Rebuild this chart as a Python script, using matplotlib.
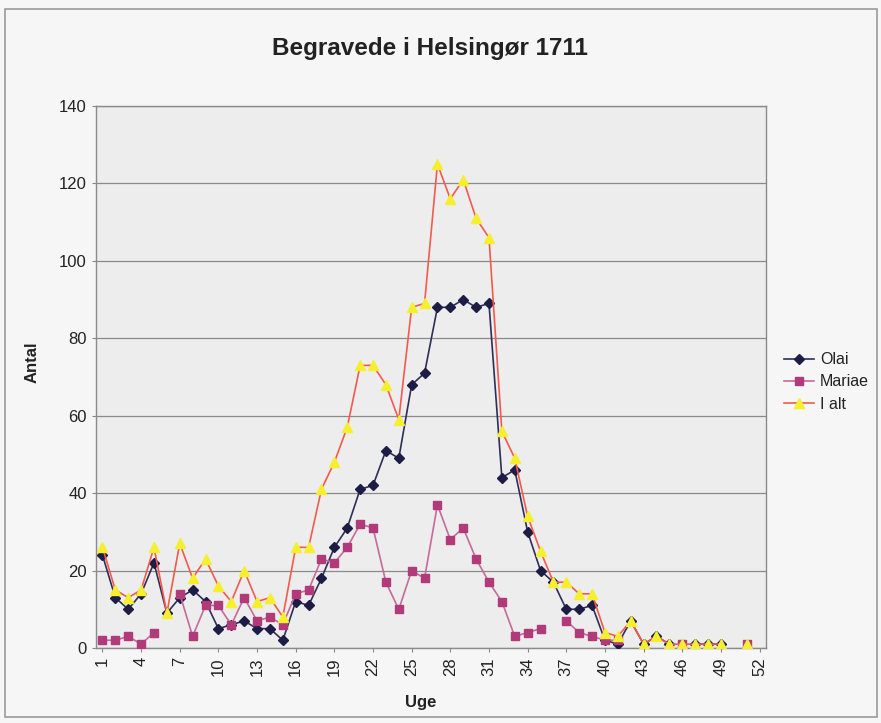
import numpy as np
import matplotlib
matplotlib.use("Agg")
import matplotlib.pyplot as plt
from matplotlib.patches import Rectangle

nan = np.nan
weeks = list(range(1, 53))
olai = [24, 13, 10, 14, 22, 9, 13, 15, 12, 5, 6, 7, 5, 5, 2, 12, 11, 18, 26, 31,
        41, 42, 51, 49, 68, 71, 88, 88, 90, 88, 89, 44, 46, 30, 20, 17, 10, 10, 11, 2,
        1, 7, 1, 3, 1, nan, 1, 1, 1, nan, nan, nan]
mariae = [2, 2, 3, 1, 4, nan, 14, 3, 11, 11, 6, 13, 7, 8, 6, 14, 15, 23, 22, 26,
          32, 31, 17, 10, 20, 18, 37, 28, 31, 23, 17, 12, 3, 4, 5, nan, 7, 4, 3, 2,
          2, nan, nan, nan, nan, 1, nan, nan, nan, nan, 1, nan]
i_alt = [26, 15, 13, 15, 26, 9, 27, 18, 23, 16, 12, 20, 12, 13, 8, 26, 26, 41, 48, 57,
         73, 73, 68, 59, 88, 89, 125, 116, 121, 111, 106, 56, 49, 34, 25, 17, 17, 14, 14, 4,
         3, 7, 1, 3, 1, 1, 1, 1, 1, nan, 1, nan]
xtick_labels = list(range(1, 53, 3))
yticks = list(range(0, 141, 20))

plt.rcParams['font.family'] = ['Liberation Sans', 'DejaVu Sans']

W, H = 881, 723
fig = plt.figure(figsize=(W / 100, H / 100), dpi=100, facecolor='#f6f6f6')

# chart-area border
fig.patches.append(Rectangle((5 / W, 6 / H), 872 / W, 708 / H, transform=fig.transFigure,
                             fill=False, edgecolor='#9a9a9a', linewidth=1.2))

left, right, top, bottom = 96, 766, 106, 648
ax = fig.add_axes([left / W, 1 - bottom / H, (right - left) / W, (bottom - top) / H])
ax.set_facecolor('#ededed')

ax.plot(weeks, olai, color='#2e2e58', lw=1.2, marker='D', markersize=5.5,
        markerfacecolor='#1c1c44', markeredgecolor='#1c1c44', label='Olai', zorder=3)
ax.plot(weeks, mariae, color='#c46a9c', lw=1.2, marker='s', markersize=5.5,
        markerfacecolor='#b03a7a', markeredgecolor='#b03a7a', label='Mariae', zorder=4)
ax.plot(weeks, i_alt, color='#f25a4e', lw=1.2, marker='^', markersize=7,
        markerfacecolor='#f6ef2e', markeredgecolor='#f6ef2e', label='I alt', zorder=5)

ax.set_xlim(0.5, 52.5)
ax.set_ylim(0, 140)
ax.set_yticks(yticks)
ax.set_xticks(xtick_labels)
ax.set_xticklabels([str(v) for v in xtick_labels], rotation=90)
ax.tick_params(axis='both', labelsize=12, colors='#222222', length=3, color='#888888')
ax.grid(axis='y', color='#8a8a8a', lw=0.9)
ax.set_axisbelow(True)
for s in ax.spines.values():
    s.set_color('#8a8a8a')
    s.set_linewidth(1.0)

fig.text(430 / W, 1 - 49 / H, 'Begravede i Helsingør 1711', ha='center', va='center',
         fontsize=17.5, fontweight='bold', color='#222222')
fig.text(32 / W, 1 - 362 / H, 'Antal', rotation=90, ha='center', va='center',
         fontsize=12, fontweight='bold', color='#222222')
fig.text(421 / W, 1 - 703 / H, 'Uge', ha='center', va='center',
         fontsize=12, fontweight='bold', color='#222222')

leg = fig.legend(loc='center left', bbox_to_anchor=(784 / W, 1 - 382 / H), frameon=False,
                 fontsize=11.5, handlelength=1.9, handletextpad=0.35, labelspacing=0.45,
                 borderpad=0, borderaxespad=0)
for t in leg.get_texts():
    t.set_color('#222222')

fig.savefig('out.png', dpi=100, facecolor=fig.get_facecolor())
